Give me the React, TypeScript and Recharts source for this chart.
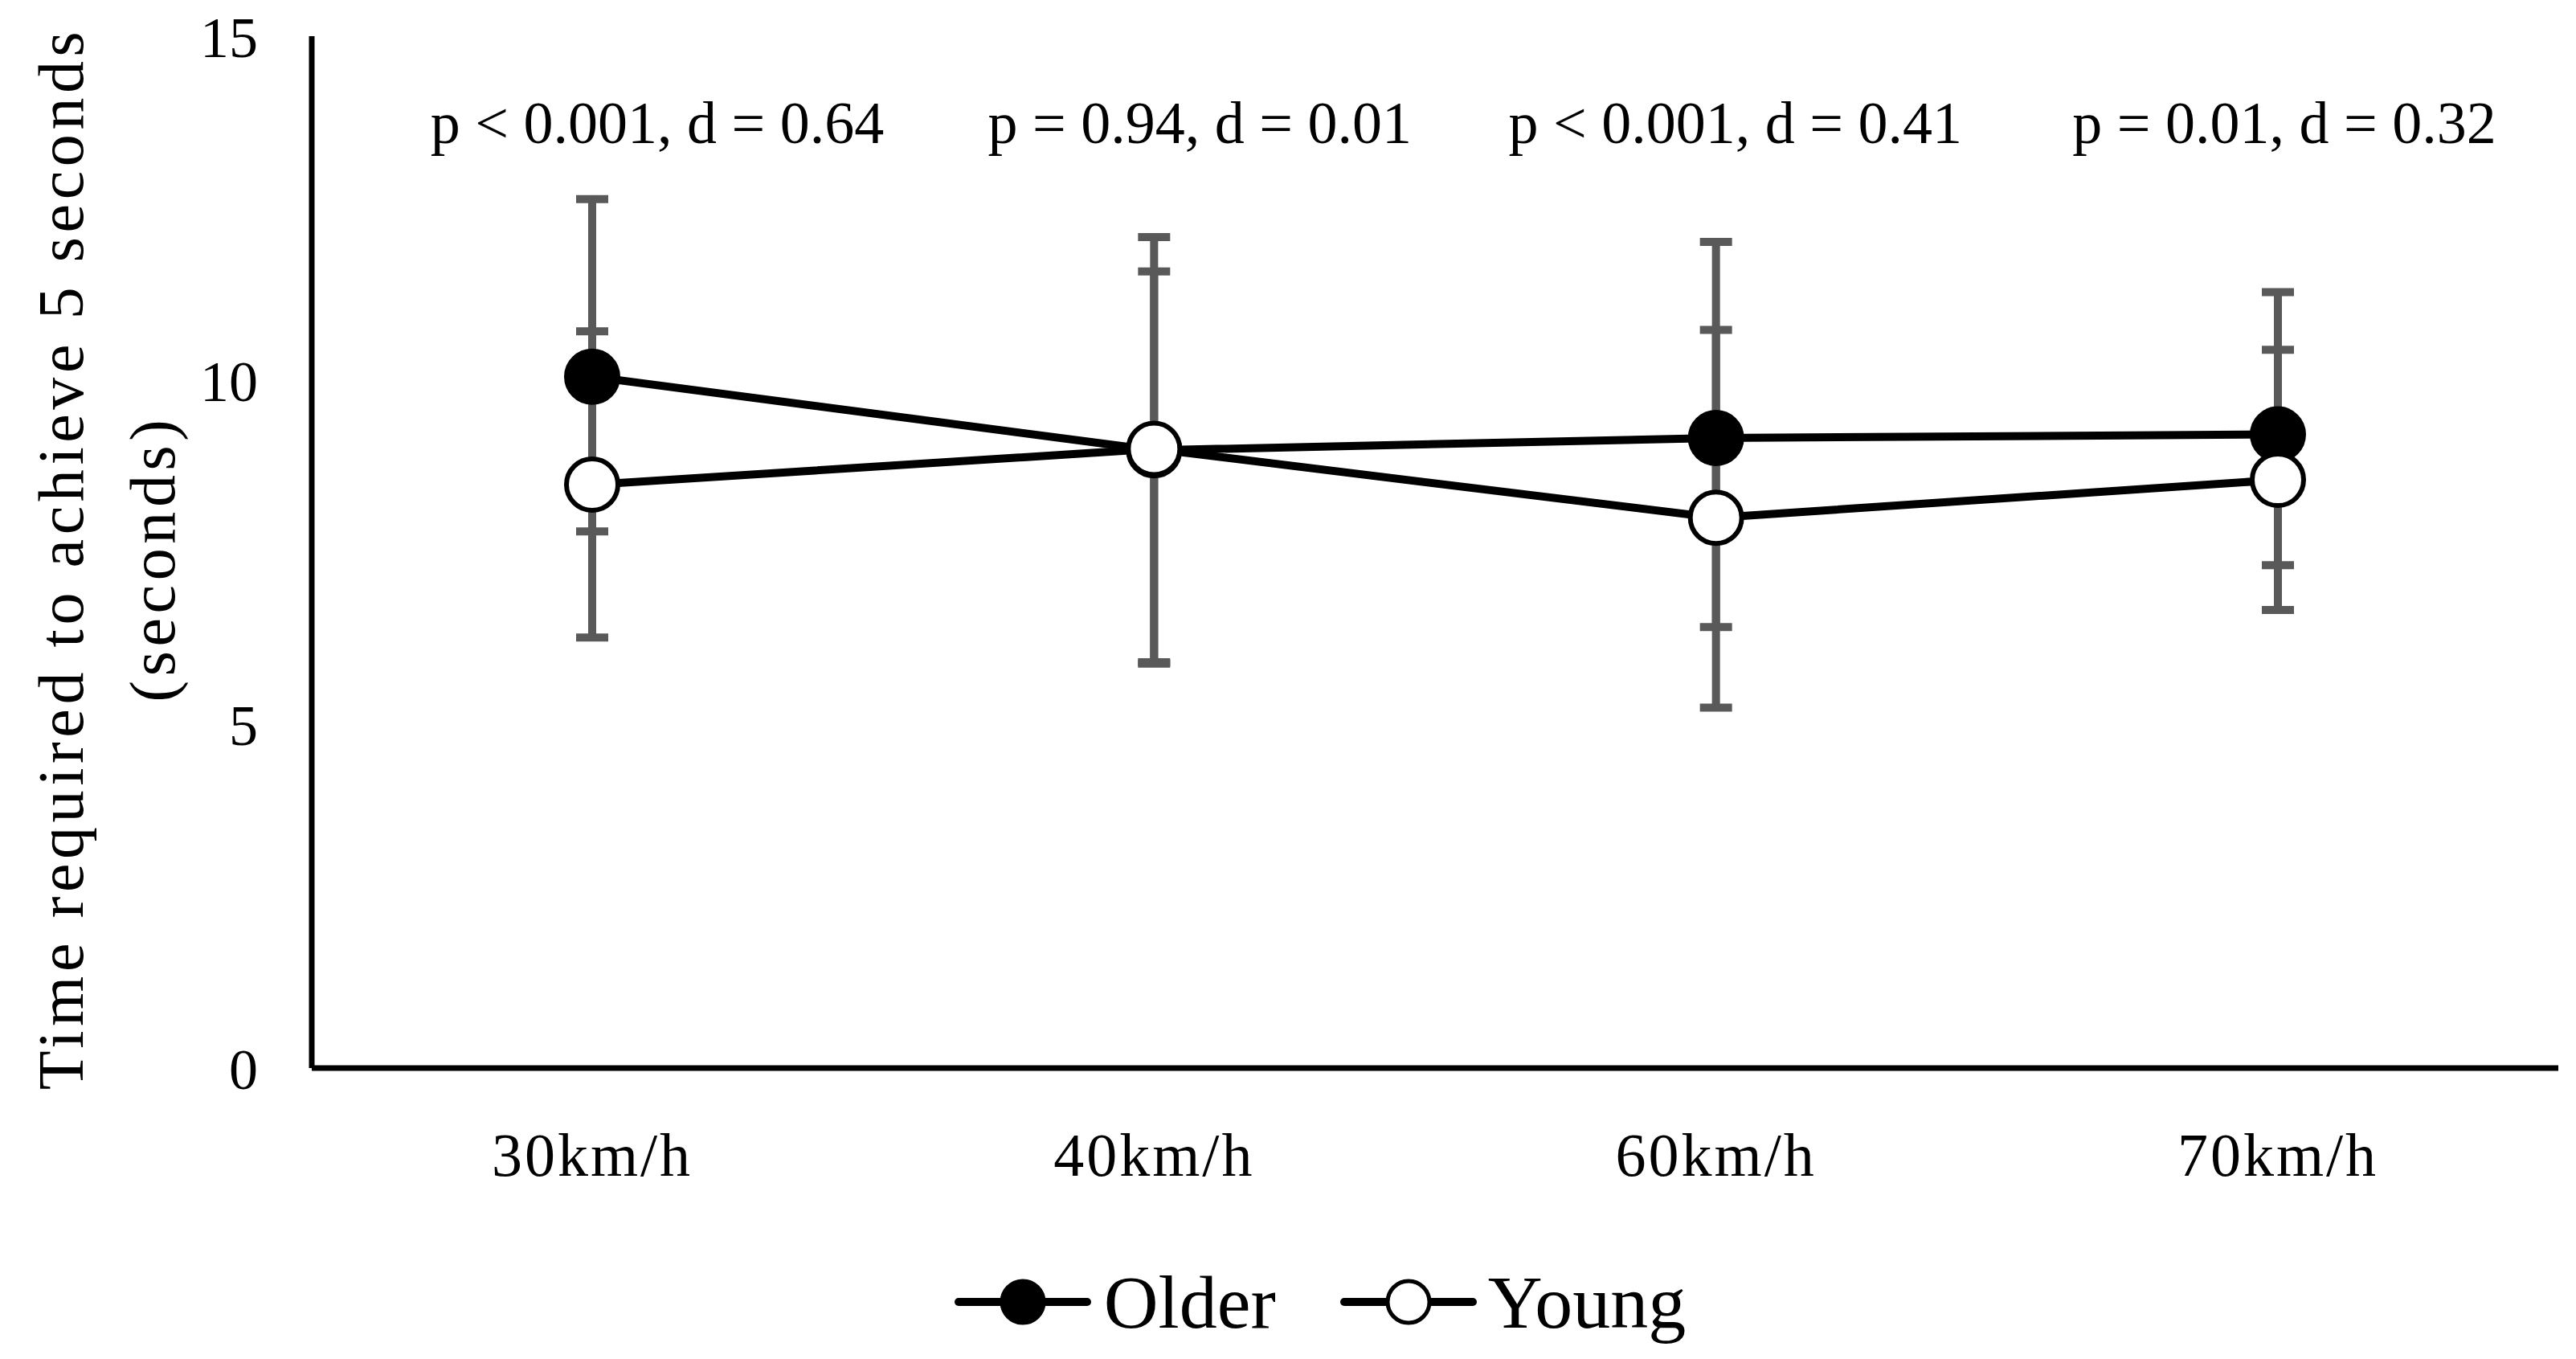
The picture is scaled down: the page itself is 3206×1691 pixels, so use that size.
import { LineChart, Line, XAxis, YAxis, ErrorBar, ReferenceDot } from "recharts";

const FONT = '"Liberation Serif", "Times New Roman", serif';
const BAR_GREY = "#595959";

// speed conditions on the x axis
const speeds = ["30km/h", "40km/h", "60km/h", "70km/h"];

// mean time (s) needed to reach 5 seconds
const olderMean = [10.05, 8.98, 9.16, 9.21];
const youngMean = [8.48, 9.0, 8.0, 8.55];

// error bar extents below / above the mean
const olderErrLow = [2.25, 3.1, 2.75, 1.9];
const olderErrHigh = [2.58, 3.1, 2.85, 2.07];
const youngErrLow = [2.22, 3.1, 2.76, 1.89];
const youngErrHigh = [2.23, 2.58, 2.73, 1.89];

// statistics written over each speed
const notes = ["p < 0.001, d = 0.64", "p = 0.94, d = 0.01", "p < 0.001, d = 0.41", "p = 0.01, d = 0.32"];

const yTicks = [0, 5, 10, 15];
const noteLevel = 13.75;

// horizontal nudge of each note text, px
const noteShift = [81, 57, 24, 8];

const rows = speeds.map((speed, i) => ({
  speed,
  older: olderMean[i],
  young: youngMean[i],
  olderErr: [olderErrLow[i], olderErrHigh[i]],
  youngErr: [youngErrLow[i], youngErrHigh[i]],
}));

const makeDot = (fill: string, tag: string) => (props: any) => {
  const { cx, cy, index } = props;
  if (cx == null || cy == null) return <g key={`${tag}-${index}`} />;
  return <circle key={`${tag}-${index}`} cx={cx} cy={cy} r={32} fill={fill} stroke="#000" strokeWidth={6} />;
};

const YTitle = (props: any) => {
  const vb = props.viewBox || { x: 0, y: 45, width: 388, height: 1284 };
  const cy = vb.y + vb.height / 2 + 8;
  const common = {
    textAnchor: "middle" as const,
    dominantBaseline: "central" as const,
    fontFamily: FONT,
    fontSize: 80,
    letterSpacing: 5.6,
    fill: "#000",
  };
  return (
    <g>
      <text x={76} y={cy} transform={`rotate(-90, 76, ${cy})`} {...common}>
        Time required to achieve 5 seconds
      </text>
      <text x={190} y={cy} transform={`rotate(-90, 190, ${cy})`} {...common}>
        (seconds)
      </text>
    </g>
  );
};

const LegendIcon = ({ fill }: { fill: string }) => (
  <svg width={170} height={70}>
    <line x1={5} y1={35} x2={165} y2={35} stroke="#000" strokeWidth={10} strokeLinecap="round" />
    <circle cx={85} cy={35} r={26} fill={fill} stroke="#000" strokeWidth={5} />
  </svg>
);

export default function App() {
  return (
    <div style={{ position: "absolute", left: 0, top: 0, width: 3206, height: 1691, background: "#fff" }}>
      <LineChart width={3206} height={1691} data={rows} margin={{ top: 45, right: 22, left: 0, bottom: 0 }}>
        <XAxis
          dataKey="speed"
          height={362}
          padding={{ left: 349, right: 349 }}
          axisLine={{ stroke: "#000", strokeWidth: 7 }}
          tickLine={false}
          tickSize={0}
          tickMargin={80}
          tick={{ fontSize: 76, fill: "#000", fontFamily: FONT, letterSpacing: 3 }}
        />
        <YAxis
          width={388}
          domain={[0, 15]}
          ticks={yTicks}
          allowDataOverflow
          axisLine={{ stroke: "#000", strokeWidth: 7 }}
          tickLine={false}
          tickSize={0}
          tickMargin={67}
          tick={{ fontSize: 72, fill: "#000", fontFamily: FONT }}
          label={{ content: YTitle }}
        />
        {/* error bars first so the markers sit above them */}
        <Line dataKey="older" stroke="none" dot={false} activeDot={false} legendType="none" isAnimationActive={false}>
          <ErrorBar dataKey="olderErr" width={20} stroke={BAR_GREY} strokeWidth={10} isAnimationActive={false} />
        </Line>
        <Line dataKey="young" stroke="none" dot={false} activeDot={false} legendType="none" isAnimationActive={false}>
          <ErrorBar dataKey="youngErr" width={20} stroke={BAR_GREY} strokeWidth={10} isAnimationActive={false} />
        </Line>
        <Line
          type="linear"
          dataKey="older"
          name="Older"
          stroke="#000"
          strokeWidth={10}
          dot={makeDot("#000", "o")}
          activeDot={false}
          isAnimationActive={false}
        />
        <Line
          type="linear"
          dataKey="young"
          name="Young"
          stroke="#000"
          strokeWidth={10}
          dot={makeDot("#fff", "y")}
          activeDot={false}
          isAnimationActive={false}
        />
        {speeds.map((speed, i) => (
          <ReferenceDot
            key={speed}
            x={speed}
            y={noteLevel}
            r={0}
            fill="none"
            stroke="none"
            label={{
              value: notes[i],
              position: "center",
              dx: noteShift[i],
              fontSize: 74,
              fontFamily: FONT,
              fill: "#000",
            }}
          />
        ))}
      </LineChart>
      <div
        style={{
          position: "absolute",
          left: 0,
          top: 1565,
          width: 3206,
          height: 110,
          display: "flex",
          alignItems: "center",
          justifyContent: "center",
          paddingLeft: 80,
          boxSizing: "border-box",
          fontFamily: FONT,
          fontSize: 94,
          lineHeight: 1,
          color: "#000",
        }}
      >
        <LegendIcon fill="#000" />
        <span style={{ marginLeft: 16, marginRight: 80 }}>Older</span>
        <LegendIcon fill="#fff" />
        <span style={{ marginLeft: 14 }}>Young</span>
      </div>
    </div>
  );
}
